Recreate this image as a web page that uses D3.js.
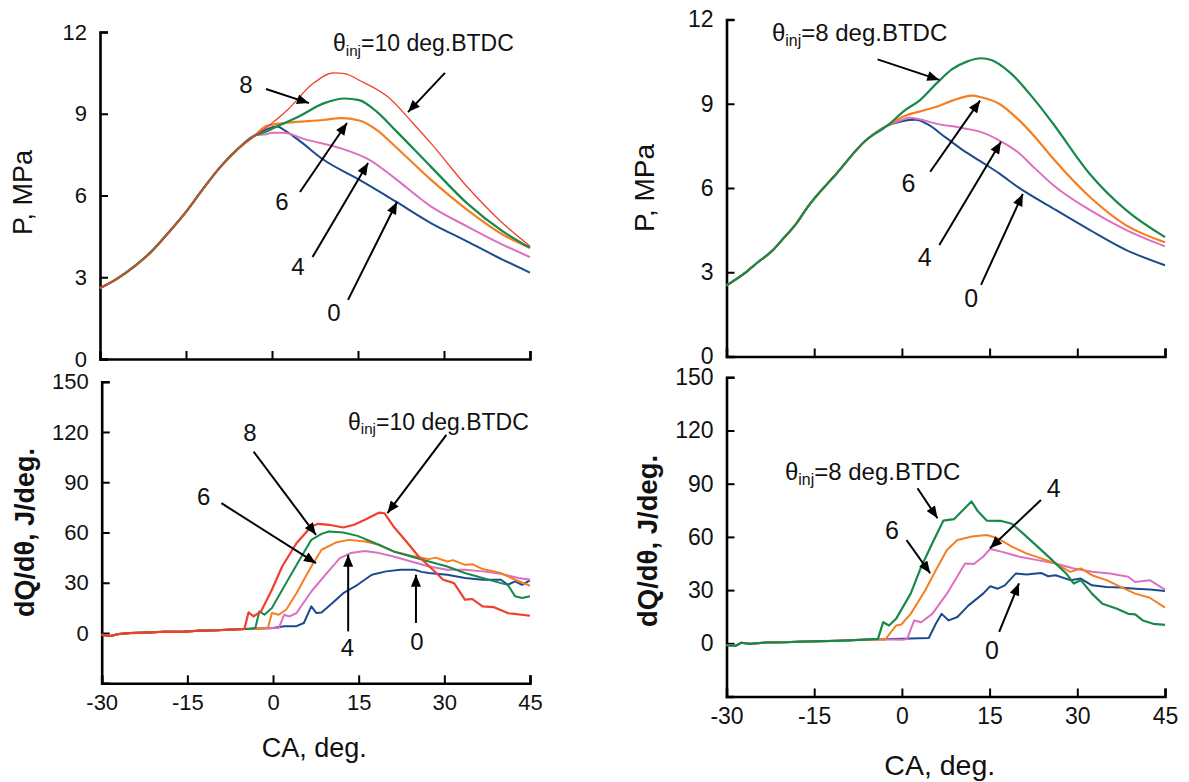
<!DOCTYPE html>
<html>
<head>
<meta charset="utf-8">
<script src="https://cdn.jsdelivr.net/npm/d3@7"></script>
<style>
  body { margin: 0; background: #fff; }
  svg { display: block; font-family: "Liberation Sans", Arial, sans-serif; }
</style>
</head>
<body>
<div id="vis"></div>
<script>
// crank angle ticks shared by all four panels
const caTicks = [-30, -15, 0, 15, 30, 45];
const pTicks = [0, 3, 6, 9, 12];
const hrTicks = [0, 30, 60, 90, 120, 150];

// series colours by injection timing (deg BTDC)
const timings = ["0", "4", "6", "8", "10"];
const colours = ["#1b4b8f", "#de6fc0", "#f57f20", "#17894a", "#f03f2c"];

// ---- pressure, theta_inj up to 10 (left) ----
const pRiseL = [[-30, 2.6], [-27, 2.95], [-24, 3.4], [-21, 3.95], [-18, 4.65], [-15, 5.4], [-12, 6.25], [-9, 7.05], [-6, 7.7], [-3, 8.2]];
const pL0 = [[0, 8.5], [0.85, 8.53], [2.5, 8.35], [4.6, 8.04], [9, 7.31], [15.2, 6.58], [21.5, 5.79], [27.7, 4.99], [34, 4.32], [40.2, 3.65], [45, 3.17]];
const pL4 = [[-1, 8.25], [0, 8.3], [2, 8.3], [5.8, 8.06], [12, 7.73], [17, 7.31], [21.5, 6.62], [27.7, 5.6], [34, 4.87], [40.2, 4.2], [45, 3.74]];
const pL6 = [[-1, 8.55], [2.7, 8.67], [9, 8.77], [12.1, 8.84], [15.2, 8.75], [18.3, 8.4], [21.5, 7.8], [27.7, 6.58], [34, 5.48], [40.2, 4.57], [45, 4.08]];
const pL8 = [[-1, 8.35], [0.2, 8.47], [4.6, 8.89], [9, 9.38], [12.7, 9.56], [15.2, 9.5], [18.3, 9.07], [21.5, 8.4], [27.7, 7.06], [34, 5.72], [40.2, 4.69], [45, 4.08]];
const pL10 = [[-0.4, 8.59], [2.7, 9.14], [7.1, 10.1], [10.8, 10.5], [12.7, 10.47], [15.2, 10.23], [20.2, 9.62], [24.6, 8.65], [27.7, 7.92], [34, 6.33], [40.2, 4.99], [45, 4.14]];

// ---- heat release, theta_inj up to 10 (left) ----
const hrBaseL = [[-30, -1], [-28.5, -1.8], [-27, -0.6], [-25, 0], [-22, 0.3], [-19, 0.8], [-16, 0.7], [-13, 1.4], [-10, 1.6], [-7, 2.1]];
const hrL0 = [[-4, 2.5], [0, 3], [2, 4], [4, 4], [5.4, 6], [6.7, 15.9], [7.6, 11.9], [8.5, 12.3], [10.4, 17.9], [12.3, 23.8], [14.8, 28.8], [17.3, 34.8], [19.8, 36.8], [22.3, 37.8], [24.8, 37.8], [26, 36.5], [27.3, 35.8], [30.5, 34.8], [33.6, 32.8], [36.7, 31.8], [39.9, 31.8], [41.1, 28.8], [42.4, 30.8], [43.6, 28.8], [45, 31.4]];
const hrL4 = [[-4, 2.5], [1, 3], [1.95, 10.9], [2.9, 9.9], [4.1, 11.9], [6.7, 24.8], [9.2, 34.8], [11.7, 44.7], [13.6, 47.7], [16.1, 49], [18.6, 47.7], [21.1, 45.7], [24.2, 42.7], [27.3, 39.7], [30.5, 37.8], [33.6, 37.8], [36.7, 36.8], [39.9, 35.4], [43, 32.8], [45, 31.8]];
const hrL6 = [[-4, 2.4], [-0.9, 3], [-0.2, 11.9], [1, 10.9], [2.3, 13.9], [4.1, 23.8], [6.7, 39.7], [8.5, 49.7], [11, 54], [13.2, 55.6], [16.1, 54.6], [18.6, 52.7], [21.1, 48.7], [24.2, 46.1], [27.3, 44.1], [28.5, 45], [30.5, 42.7], [31.5, 43.5], [33.6, 40.7], [35, 41], [36.7, 38.2], [39.9, 35.8], [42.4, 31.8], [45, 28.2]];
const hrL8 = [[-4, 2.6], [-3.1, 3], [-2.4, 12.9], [-1.5, 10.9], [-0.2, 14.9], [2.3, 29.8], [4.8, 44.7], [6.7, 55.6], [8.5, 59.2], [9.8, 60.6], [12.3, 60], [14.8, 58], [17.9, 53.6], [21.1, 48.7], [24.2, 45.7], [27.3, 42.7], [30.5, 39.7], [33.6, 35.8], [36.7, 32.8], [39.9, 29.8], [41.1, 28.8], [42.4, 21.9], [43.6, 20.9], [45, 21.9]];
const hrL10 = [[-5, 2.5], [-4.3, 12.3], [-3.4, 10], [-2.1, 12.9], [-0.2, 25.8], [1.6, 39.7], [4.1, 53.6], [6.7, 63.6], [7.9, 65.2], [9.8, 64.6], [12.3, 63], [14.2, 64.6], [16.1, 67.6], [18.6, 71.9], [19.5, 71.5], [21.1, 63.6], [23.6, 53.6], [25.5, 45.7], [28, 37.8], [29.8, 31.8], [31.7, 29.8], [33.6, 19.9], [34.9, 20.3], [36.7, 15.9], [38.6, 15.5], [41.1, 11.9], [45, 10.3]];

// ---- pressure, theta_inj up to 8 (right) ----
const pRiseR = [[-30, 2.53], [-27, 2.95], [-24.8, 3.33], [-22, 3.8], [-20.5, 4.15], [-18, 4.75], [-16.1, 5.33], [-11.2, 6.51], [-6.2, 7.69], [-2.5, 8.22]];
const pR0 = [[0, 8.38], [2.4, 8.43], [4.3, 8.28], [7.4, 7.81], [10.5, 7.34], [13.6, 6.93], [16.7, 6.51], [19.8, 6.04], [25.9, 5.27], [32.1, 4.51], [38.3, 3.8], [45, 3.25]];
const pR4 = [[0, 8.42], [1.2, 8.5], [3, 8.45], [5.5, 8.31], [10.5, 8.13], [13.6, 7.99], [16.7, 7.69], [19.8, 7.28], [22.8, 6.69], [25.9, 6.1], [32.1, 5.22], [38.3, 4.51], [45, 3.92]];
const pR6 = [[0, 8.52], [3.7, 8.76], [6.1, 8.9], [8.6, 9.11], [12, 9.29], [13.6, 9.23], [16.7, 8.99], [19.8, 8.46], [22.8, 7.81], [25.9, 7.04], [32.1, 5.69], [38.3, 4.68], [45, 4.07]];
const pR8 = [[0.6, 8.78], [3, 9.11], [6.1, 9.76], [8.6, 10.23], [11.1, 10.5], [13.6, 10.62], [15.4, 10.55], [18.5, 10.11], [22.8, 9.11], [25.9, 8.28], [32.1, 6.51], [38.3, 5.22], [45, 4.25]];

// ---- heat release, theta_inj up to 8 (right) ----
const hrBaseR = [[-30, -1], [-28.5, -1.5], [-27.5, 0.3], [-26, -0.3], [-23, 0.5], [-20, 0.6], [-17, 1], [-14, 1.2], [-11, 1.4], [-8, 1.8]];
const hrR0 = [[-4, 2.3], [0, 2.5], [4.6, 3], [5.8, 11], [6.8, 16.6], [8, 12.9], [9.5, 14.8], [11.4, 21.4], [13.9, 28], [15.1, 32.2], [16.4, 30.8], [17.6, 32.7], [19.5, 39.4], [21.3, 38.8], [23.8, 39.7], [25, 37.8], [26.3, 38.4], [28.8, 35.6], [30.6, 36.5], [32.5, 32.7], [35, 31.8], [37.4, 31.4], [39.9, 30.8], [42.4, 30.3], [45, 29.5]];
const hrR4 = [[-4, 2.3], [0.2, 2], [0.9, 2.5], [2.1, 12.9], [3.3, 11.9], [5.2, 16.6], [7.7, 28], [10.8, 45], [12.3, 44.7], [13.9, 48.8], [15.1, 53.2], [17, 51.7], [20.1, 48.8], [23.2, 46.9], [26.3, 45], [29.4, 42.2], [32.5, 40.3], [35.6, 39.4], [38.7, 37.5], [39.9, 34.6], [42.4, 35.6], [45, 30.3]];
const hrR6 = [[-4, 2.3], [-2.9, 2], [-1, 10], [-0.1, 10.6], [1.5, 16.6], [4, 29.9], [5.8, 41.2], [7.7, 52.6], [9.5, 58.3], [12, 60.2], [14.5, 61.1], [16.4, 59.2], [18.8, 54.5], [21.3, 50.7], [23.8, 47.9], [26.3, 45], [28.8, 40.3], [30.6, 42.2], [32.5, 38.4], [35, 35.6], [37.4, 31.8], [39.9, 28], [42.4, 25.7], [45, 20.1]];
const hrR8 = [[-4.1, 2.5], [-3.2, 11.9], [-2.2, 10], [-1, 13.8], [1.5, 28], [3.3, 43.1], [5.2, 56.4], [7.1, 69.2], [8.9, 70], [10.5, 75.3], [11.9, 80], [13, 74.4], [14.5, 69.2], [17, 69], [18.8, 67.4], [20.7, 62], [23.2, 54.5], [25.7, 46.9], [28.1, 39.4], [29.4, 33.7], [30.6, 35.6], [32.5, 28], [34.3, 22.3], [36.8, 19.5], [38.7, 16.6], [39.9, 16.3], [41.2, 12.9], [43, 11], [45, 10.4]];

// annotation labels / arrows in data units: [text, x, y] and [x1, y1, x2, y2]
const notesTL = { title: ["10", 10.64, 11.6], titleArrow: [30.17, 10.5, 23.72, 9.06],
  labels: [["8", -4.53, 10.06], ["6", 1.75, 5.76], ["4", 4.54, 3.38], ["0", 10.81, 1.69]],
  arrows: [[-1.05, 9.91, 6.45, 9.39], [4.88, 6.13, 13.08, 8.66], [7.07, 3.74, 16.75, 7.19], [13.26, 2.17, 21.8, 5.76]] };
const notesBL = { title: ["10", 13.13, 126.2], titleArrow: [30.36, 118.3, 20.04, 71.6],
  labels: [["8", -4.03, 119.6], ["6", -12.16, 81.5], ["4", 13.04, -8.9], ["0", 25.21, -5]],
  arrows: [[-3.4, 108.3, 7.52, 58.6], [-9.04, 77.5, 7.52, 41.7], [13.16, 1, 13.16, 46.7], [25.03, 6, 25.03, 34.8]] };
const notesTR = { title: ["8", -22.22, 11.52], titleArrow: [-4.16, 10.58, 6.4, 9.85],
  labels: [["6", 1.13, 6.18], ["4", 3.92, 3.55], ["0", 11.85, 2.07]],
  arrows: [[4.84, 6.58, 13.36, 9.11], [6.4, 3.97, 16.95, 7.65], [13.53, 2.55, 20.68, 5.79]] };
const notesBR = { title: ["8", -20, 96.8], titleArrow: [2.67, 87.4, 6.09, 70.5],
  labels: [["6", -1.69, 63.9], ["4", 25.95, 87.4], ["0", 15.41, -3.8]],
  arrows: [[0.8, 58.2, 4.84, 39.5], [23.78, 80.8, 15.07, 53.6], [16.64, 6.5, 20.03, 33.8]] };

const width = 1189;
const height = 782;

const svg = d3.select("#vis").append("svg")
  .attr("width", width)
  .attr("height", height);

svg.append("defs").append("marker")
  .attr("id", "head")
  .attr("markerUnits", "userSpaceOnUse")
  .attr("viewBox", "0 0 12 10")
  .attr("refX", 12).attr("refY", 5)
  .attr("markerWidth", 13).attr("markerHeight", 10)
  .attr("orient", "auto")
  .append("path").attr("d", "M0,0 L12,5 L0,10 Z").attr("fill", "#000");

function panel(opt) {
  const x = d3.scaleLinear().domain([-30, 45]).range(opt.xr);
  const y = d3.scaleLinear().domain(opt.yd).range(opt.yr);
  const g = svg.append("g");

  // x axis: inward ticks, labels only on the lower panels (plain hyphen for minus)
  const xa = d3.axisBottom(x).tickValues(caTicks).tickSize(-8).tickPadding(11)
    .tickFormat(opt.xLabels ? (d) => String(d) : "");
  g.append("g").attr("transform", `translate(0,${y(opt.yd[0])})`).call(xa);

  const ya = d3.axisLeft(y).tickValues(opt.yt).tickSize(-8).tickPadding(13)
    .tickFormat((d) => String(d));
  g.append("g").attr("transform", `translate(${x(-30)},0)`).call(ya);

  g.selectAll(".domain").attr("stroke", "#000").attr("stroke-width", 2.6);
  g.selectAll(".tick line").attr("stroke", "#000").attr("stroke-width", 2);
  g.selectAll(".tick text").attr("font-size", opt.tickSize).attr("fill", "#111")
    .attr("font-family", "'Liberation Sans', Arial, sans-serif");

  const line = d3.line().x((d) => x(d[0])).y((d) => y(d[1])).curve(opt.curve);
  opt.series.forEach((s, i) => {
    g.append("path").datum(s)
      .attr("fill", "none")
      .attr("stroke", colours[i])
      .attr("stroke-width", opt.widths[i])
      .attr("stroke-linejoin", "round")
      .attr("d", line);
  });

  // y title (baseline sits titleOff px left of the axis)
  g.append("text")
    .attr("transform", `translate(${x(-30) - opt.titleOff},${(y.range()[0] + y.range()[1]) / 2 + opt.titleShift}) rotate(-90)`)
    .attr("text-anchor", "middle")
    .attr("font-size", opt.titleSize)
    .attr("font-weight", opt.titleWeight)
    .attr("fill", "#111")
    .text(opt.yTitle);

  if (opt.xLabels) {
    g.append("text")
      .attr("x", (opt.xr[0] + opt.xr[1]) / 2 + opt.caShift)
      .attr("y", y(opt.yd[0]) + opt.caOff)
      .attr("text-anchor", "middle")
      .attr("font-size", opt.caSize)
      .attr("fill", "#111")
      .text("CA, deg.");
  }

  // annotations
  const n = opt.notes;
  const t = g.append("text")
    .attr("x", x(n.title[1])).attr("y", y(n.title[2]))
    .attr("dy", "0.35em")
    .attr("font-size", opt.noteSize)
    .attr("fill", "#111");
  t.append("tspan").text("\u03b8");
  t.append("tspan").attr("font-size", opt.noteSize * 0.66).attr("dy", "0.3em").text("inj");
  t.append("tspan").attr("dy", "-0.2em").text(`=${n.title[0]} deg.BTDC`);

  const arrows = [n.titleArrow].concat(n.arrows);
  g.selectAll(null).data(arrows).enter().append("line")
    .attr("x1", (d) => x(d[0])).attr("y1", (d) => y(d[1]))
    .attr("x2", (d) => x(d[2])).attr("y2", (d) => y(d[3]))
    .attr("stroke", "#000").attr("stroke-width", 2)
    .attr("marker-end", "url(#head)");

  g.selectAll(null).data(n.labels).enter().append("text")
    .attr("x", (d) => x(d[1])).attr("y", (d) => y(d[2]))
    .attr("dy", "0.35em")
    .attr("text-anchor", "middle")
    .attr("font-size", opt.noteSize + 1)
    .attr("fill", "#111")
    .text((d) => d[0]);
}

panel({
  xr: [100, 530], yd: [0, 12], yr: [359, 32], yt: pTicks, xLabels: false,
  series: [pRiseL.concat(pL0), pRiseL.concat(pL4), pRiseL.concat(pL6), pRiseL.concat(pL8), pRiseL.concat(pL10)],
  widths: [2, 2, 2.2, 2.2, 1.3], curve: d3.curveMonotoneX, tickSize: 22,
  yTitle: "P, MPa", titleOff: 68, titleShift: -3, titleSize: 27, titleWeight: "normal",
  noteSize: 23, notes: notesTL
});

panel({
  xr: [101.7, 530], yd: [-30, 150], yr: [683.3, 381.7], yt: hrTicks, xLabels: true,
  series: [hrBaseL.concat(hrL0), hrBaseL.concat(hrL4), hrBaseL.concat(hrL6), hrBaseL.concat(hrL8), hrBaseL.concat(hrL10)],
  widths: [2, 2, 2, 2, 2.2], curve: d3.curveLinear, tickSize: 22,
  yTitle: "dQ/d\u03b8, J/deg.", titleOff: 68, titleShift: 0, titleSize: 27, titleWeight: "bold",
  caSize: 27, caOff: 74, caShift: -1.5,
  noteSize: 23, notes: notesBL
});

panel({
  xr: [726.5, 1165], yd: [0, 12], yr: [356.5, 19.5], yt: pTicks, xLabels: false,
  series: [pRiseR.concat(pR0), pRiseR.concat(pR4), pRiseR.concat(pR6), pRiseR.concat(pR8)],
  widths: [2, 2, 2.2, 2.2], curve: d3.curveMonotoneX, tickSize: 23,
  yTitle: "P, MPa", titleOff: 73, titleShift: 0, titleSize: 28, titleWeight: "normal",
  noteSize: 24, notes: notesTR
});

panel({
  xr: [726.5, 1165], yd: [-30, 150], yr: [696.5, 377.3], yt: hrTicks, xLabels: true,
  series: [hrBaseR.concat(hrR0), hrBaseR.concat(hrR4), hrBaseR.concat(hrR6), hrBaseR.concat(hrR8)],
  widths: [2, 2, 2, 2.2], curve: d3.curveLinear, tickSize: 23,
  yTitle: "dQ/d\u03b8, J/deg.", titleOff: 70, titleShift: 4, titleSize: 27.5, titleWeight: "bold",
  caSize: 28.5, caOff: 78.5, caShift: -6,
  noteSize: 24, notes: notesBR
});
</script>
</body>
</html>
